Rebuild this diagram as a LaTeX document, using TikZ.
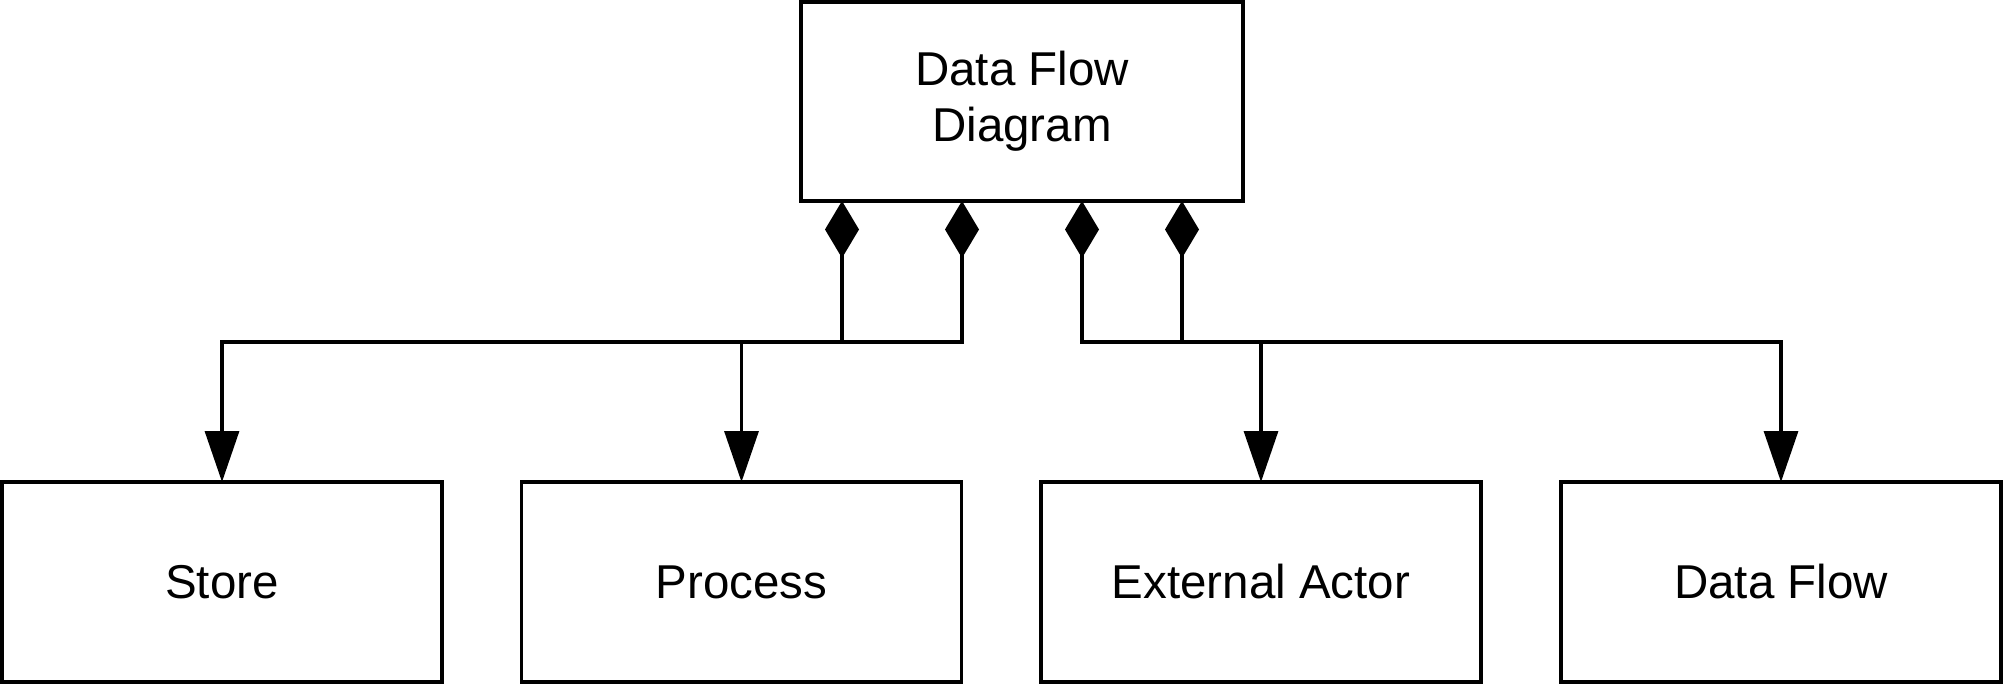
\documentclass[tikz,border=0pt]{standalone}
\usepackage{fontspec}
\setmainfont{Liberation Sans}
\usetikzlibrary{arrows.meta,calc}
\begin{document}
\begin{tikzpicture}[x=0.5pt,y=-0.5pt,
  box/.style={draw,line width=1.65pt,minimum width=220pt,minimum height=100pt,
    inner sep=0pt,outer sep=0pt,align=center,
    font=\fontsize{23.75}{28}\selectfont},
  conn/.style={line width=1.65pt,line join=miter,
    {Diamond[width=17pt,length=28.5pt]}-{Triangle[width=17pt,length=25.5pt]}}]
\useasboundingbox (0,0) rectangle (2004,684);
\node[box,minimum width=221pt,minimum height=99.5pt] (top) at (1022,101.5) {Data Flow\\Diagram};
\node[box] (store) at (222,582) {Store};
\node[box] (process) at (741.5,582) {Process};
\node[box] (actor) at (1261,582) {External Actor};
\node[box] (flow) at (1781,582) {Data Flow};
\draw[conn] ($(top.south)+(-180,0)$) -- ($(top.south)+(-180,141)$) -| (store.north);
\draw[conn] ($(top.south)+(-60,0)$) -- ($(top.south)+(-60,141)$) -| (process.north);
\draw[conn] ($(top.south)+(60,0)$) -- ($(top.south)+(60,141)$) -| (actor.north);
\draw[conn] ($(top.south)+(160,0)$) -- ($(top.south)+(160,141)$) -| (flow.north);
\end{tikzpicture}
\end{document}
